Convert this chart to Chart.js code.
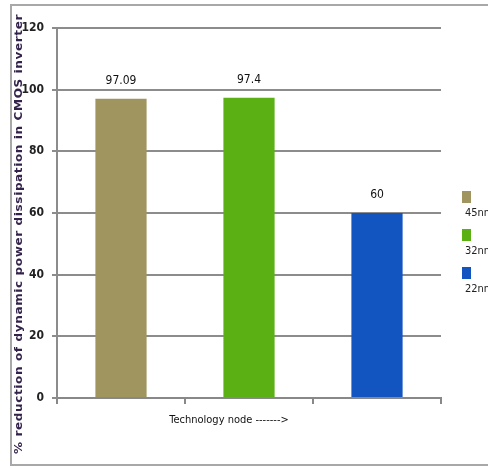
<!DOCTYPE html>
<html>
<head>
<meta charset="utf-8">
<script src="https://cdn.jsdelivr.net/npm/chart.js@4"></script>
<style>
html, body { margin: 0; padding: 0; background: #fff; overflow: hidden; }
#frame { position: absolute; left: 10px; top: 4px; width: 500px; height: 458px; border: 2px solid #a8a8a8; }
#wrap { position: absolute; left: 0; top: 0; width: 488px; height: 468px; }
</style>
</head>
<body>
<div id="frame"></div>
<div id="wrap"><canvas id="myChart"></canvas></div>
<script>
//*************** data *******************
var nodes = ["45nm", "32nm", "22nm"];
var reduction = [97.09, 97.4, 60];
var yTicks = [0, 20, 40, 60, 80, 100, 120];
var barColors = ["#a0955f", "#5bb014", "#1254c0"];
var yTitle = "% reduction of dynamic power dissipation in CMOS inverter";
var xTitle = "Technology node ------->";

var narrow = "'Liberation Sans Narrow', 'DejaVu Sans Condensed', sans-serif";

// value above each bar
var valueLabels = {
  id: "valueLabels",
  afterDatasetsDraw: function(chart) {
    var ctx = chart.ctx;
    var meta = chart.getDatasetMeta(0);
    ctx.save();
    ctx.font = "12px " + narrow;
    ctx.fillStyle = "#111";
    ctx.textAlign = "center";
    ctx.textBaseline = "alphabetic";
    meta.data.forEach(function(bar, i) {
      ctx.fillText(String(reduction[i]), bar.x, bar.y - 15);
    });
    ctx.restore();
  }
};

// axis titles + legend on the right
var extras = {
  id: "extras",
  afterDraw: function(chart) {
    var ctx = chart.ctx;
    ctx.save();

    // y title, reads bottom to top, stretched to run almost the full height like the original
    ctx.translate(19, 234);
    ctx.rotate(-Math.PI / 2);
    ctx.font = "bold 10px 'DejaVu Sans', sans-serif";
    ctx.letterSpacing = "0.5px";
    var w = ctx.measureText(yTitle).width;
    ctx.scale(440 / w, 1);
    ctx.fillStyle = "#33224a";
    ctx.textAlign = "center";
    ctx.textBaseline = "middle";
    ctx.fillText(yTitle, 0, 0);
    ctx.restore();

    ctx.save();
    ctx.font = "11px " + narrow;
    ctx.fillStyle = "#111";
    ctx.textAlign = "center";
    ctx.textBaseline = "middle";
    ctx.fillText(xTitle, 229, 420);

    // legend, label under the box (cut off by the edge)
    ctx.textAlign = "left";
    for (var i = 0; i < nodes.length; i++) {
      var y = 191 + i * 38;
      ctx.fillStyle = barColors[i];
      ctx.fillRect(462, y, 9, 12);
      ctx.fillStyle = "#222";
      ctx.fillText(nodes[i], 465, y + 22);
    }
    ctx.restore();
  }
};

var myChart = document.getElementById("myChart").getContext("2d");
var powerChart = new Chart(myChart, {
  type: "bar",
  data: {
    labels: nodes,
    datasets: [{
      label: "% reduction",
      data: reduction,
      backgroundColor: barColors,
      borderWidth: 0,
      categoryPercentage: 1,
      barPercentage: 0.4
    }]
  },
  options: {
    responsive: true,
    maintainAspectRatio: false,
    animation: false,
    layout: { padding: { top: 28, right: 47, bottom: 39, left: 0 } },
    plugins: {
      legend: { display: false },
      tooltip: { enabled: false }
    },
    scales: {
      x: {
        offset: true,
        afterFit: function(scale) { scale.height = 31; },
        grid: { drawOnChartArea: false, color: "#888", lineWidth: 2, tickLength: 6, offset: true },
        border: { color: "#888", width: 2 },
        ticks: { display: false }
      },
      y: {
        min: 0,
        max: 120,
        afterBuildTicks: function(scale) {
          scale.ticks = yTicks.map(function(v) { return { value: v }; });
        },
        afterFit: function(scale) { scale.width = 57; },
        grid: { color: "#8c8c8c", lineWidth: 2, tickLength: 5 },
        border: { color: "#8c8c8c", width: 2 },
        ticks: {
          padding: 8,
          color: "#222",
          font: { family: narrow, size: 12, weight: "bold" }
        }
      }
    }
  },
  plugins: [valueLabels, extras]
});
</script>
</body>
</html>
